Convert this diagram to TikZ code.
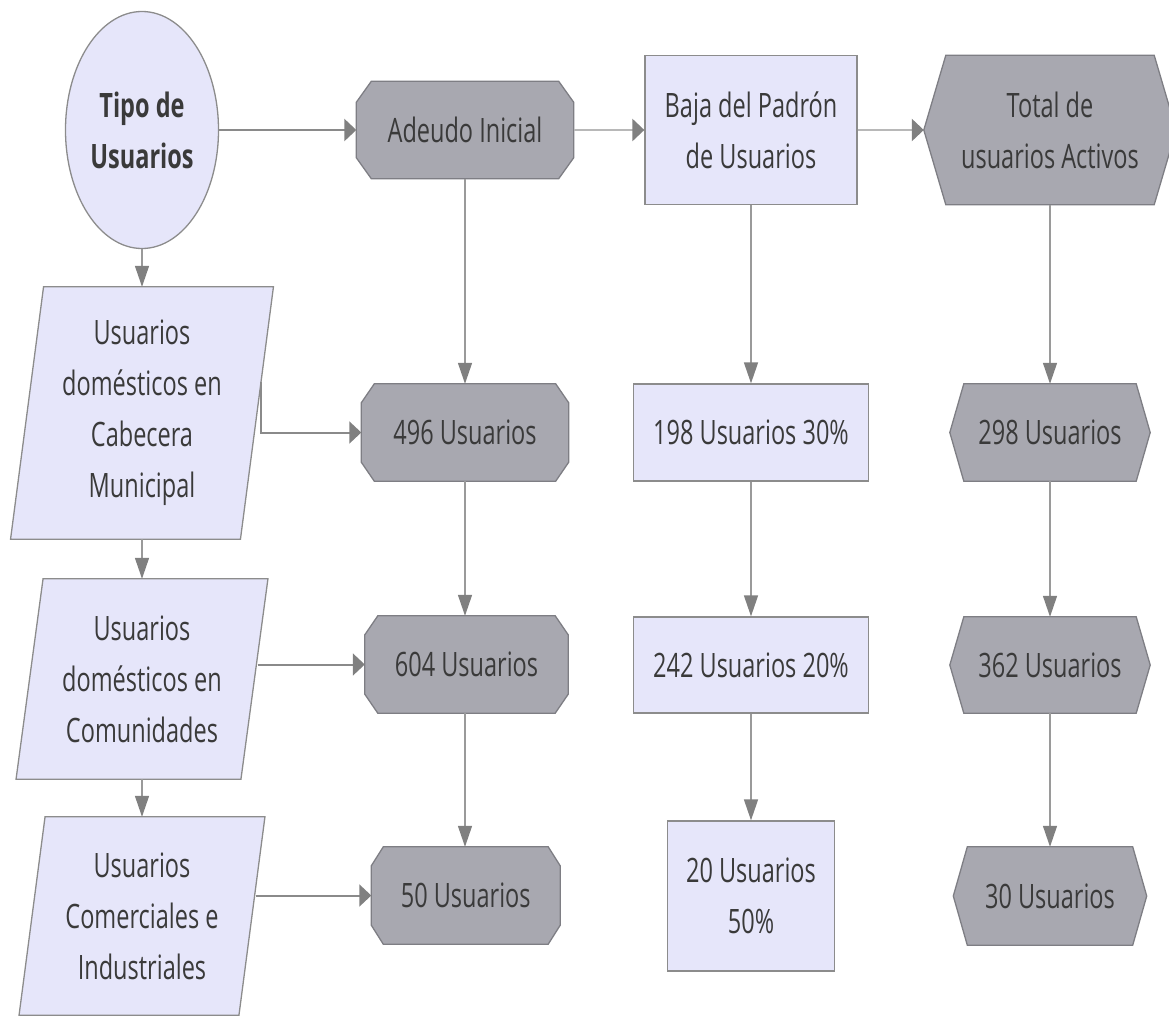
\documentclass[tikz,border=0pt]{standalone}
\usepackage{fontspec}
\setmainfont{Open Sans}[FakeStretch=0.70]
\usetikzlibrary{arrows.meta,shapes.geometric,calc}
\pgfdeclarelayer{background}
\pgfsetlayers{background,main}
\definecolor{lav}{HTML}{E6E6FA}
\definecolor{gfill}{HTML}{A8A8B0}
\definecolor{bord}{HTML}{8C8C8C}
\definecolor{gbord}{HTML}{7E7E84}
\definecolor{txt}{HTML}{3A3A3A}
\definecolor{lineA}{HTML}{8A8A8A}
\definecolor{lineB}{HTML}{B8B8B8}
\definecolor{lineV}{HTML}{9A9A9A}
\definecolor{tipc}{HTML}{808080}
\tikzset{
  txtbox/.style={rectangle, inner sep=0pt, align=center, text=txt,
    font=\fontsize{33.6}{51}\selectfont},
  lavbox/.style={txtbox, fill=lav, draw=bord, line width=1.3pt},
  shapebox/.style={txtbox, draw=none},
  gshape/.style={fill=gfill, draw=gbord, line width=1.3pt, line join=miter},
  lshape/.style={fill=lav, draw=bord, line width=1.3pt, line join=miter},
  hconn/.style={line width=2.6pt, draw=lineA, -{Triangle[length=12pt,width=22pt,color=tipc]}},
  hlight/.style={hconn, draw=lineB},
  vconn/.style={line width=1.5pt, draw=lineV, -{Triangle[length=21pt,width=14pt,color=tipc]}}
}
\newcommand\octoshape[3]{%
  \begin{pgfonlayer}{background}
  \path[gshape] ([xshift=#2]#1.north west) -- ([xshift=-#2]#1.north east)
    -- ([yshift=-#3]#1.north east) -- ([yshift=#3]#1.south east)
    -- ([xshift=-#2]#1.south east) -- ([xshift=#2]#1.south west)
    -- ([yshift=#3]#1.south west) -- ([yshift=-#3]#1.north west) -- cycle;
  \end{pgfonlayer}}
\newcommand\hexashape[2]{%
  \begin{pgfonlayer}{background}
  \path[gshape] (#1.west) -- ([xshift=#2]#1.north west) -- ([xshift=-#2]#1.north east)
    -- (#1.east) -- ([xshift=-#2]#1.south east) -- ([xshift=#2]#1.south west) -- cycle;
  \end{pgfonlayer}}
\newcommand\parashape[2]{%
  \begin{pgfonlayer}{background}
  \path[lshape] ([xshift=#2]#1.north west) -- ([xshift=#2]#1.north east)
    -- ([xshift=-#2]#1.south east) -- ([xshift=-#2]#1.south west) -- cycle;
  \end{pgfonlayer}}
\begin{document}
\begin{tikzpicture}[x=1pt,y=-1pt]
\clip (0,0) rectangle (1169,1017);

% first column
\node[ellipse, minimum width=153pt, minimum height=237pt, inner sep=0pt,
  fill=lav, draw=bord, line width=1.3pt, align=center, text=txt,
  font=\bfseries\fontsize{33.6}{51}\selectfont] (tipo) at (142,130) {Tipo de\\Usuarios};
\node[shapebox, minimum width=229.5pt, minimum height=252pt] (p1) at (142,413)
  {Usuarios\\domésticos en\\Cabecera\\Municipal};
\node[shapebox, minimum width=224.5pt, minimum height=200pt] (p2) at (142,679)
  {Usuarios\\domésticos en\\Comunidades};
\node[shapebox, minimum width=219.5pt, minimum height=198pt] (p3) at (142,916)
  {Usuarios\\Comerciales e\\Industriales};
\parashape{p1}{16.5pt}
\parashape{p2}{13.5pt}
\parashape{p3}{13pt}

% second column
\node[shapebox, minimum width=217pt, minimum height=97pt] (adeudo) at (465,130) {Adeudo Inicial};
\node[shapebox, minimum width=207pt, minimum height=97pt] (n496) at (465,432.5) {496 Usuarios};
\node[shapebox, minimum width=203pt, minimum height=97pt] (n604) at (466.5,664.5) {604 Usuarios};
\node[shapebox, minimum width=188.5pt, minimum height=97pt] (n50) at (465.75,895.5) {50 Usuarios};
\octoshape{adeudo}{15pt}{21pt}
\octoshape{n496}{13pt}{19pt}
\octoshape{n604}{13pt}{19pt}
\octoshape{n50}{12pt}{19pt}

% third column
\node[lavbox, minimum width=212pt, minimum height=149pt] (baja) at (751,130) {Baja del Padrón\\de Usuarios};
\node[lavbox, minimum width=235pt, minimum height=97pt] (n198) at (751,432.5) {198 Usuarios 30\%};
\node[lavbox, minimum width=235pt, minimum height=96pt] (n242) at (751,665) {242 Usuarios 20\%};
\node[lavbox, minimum width=167pt, minimum height=150pt] (n20) at (751,896) {20 Usuarios\\50\%};

% fourth column
\node[shapebox, minimum width=252pt, minimum height=149pt] (total) at (1050,130) {Total de\\usuarios Activos};
\node[shapebox, minimum width=200pt, minimum height=97pt] (n298) at (1050,432.5) {298 Usuarios};
\node[shapebox, minimum width=200pt, minimum height=96pt] (n362) at (1050,665) {362 Usuarios};
\node[shapebox, minimum width=193pt, minimum height=98pt] (n30) at (1050,896) {30 Usuarios};
\hexashape{total}{22pt}
\hexashape{n298}{14pt}
\hexashape{n362}{14pt}
\hexashape{n30}{14pt}

% connectors: top row
\draw[hconn] (tipo) -- (adeudo);
\draw[hlight] (adeudo) -- (baja);
\draw[hlight] (baja) -- (total);

% first column downwards
\draw[vconn] (tipo) -- (p1);
\draw[vconn] (p1) -- (p2);
\draw[vconn] (p2) -- (p3);

% columns downwards
\draw[vconn] (adeudo.south) -- (adeudo.south |- n496.north);
\draw[vconn] (n496.south) -- (n496.south |- n604.north);
\draw[vconn] (n604.south -| n496.south) -- (n496.south |- n50.north);
\draw[vconn] (baja) -- (n198);
\draw[vconn] (n198) -- (n242);
\draw[vconn] (n242) -- (n20);
\draw[vconn] (total) -- (n298);
\draw[vconn] (n298) -- (n362);
\draw[vconn] (n362) -- (n30);

% from user types to counts
\coordinate (p1o) at (261,382);
\coordinate (p2o) at (257.5,664.5);
\coordinate (p3o) at (256,895.5);
\draw[hconn, line width=2pt] (p1o) |- (n496.west);
\draw[hconn, line width=2pt] (p2o) -- (n604.west);
\draw[hconn, line width=2pt] (p3o) -- (n50.west);
\end{tikzpicture}
\end{document}
